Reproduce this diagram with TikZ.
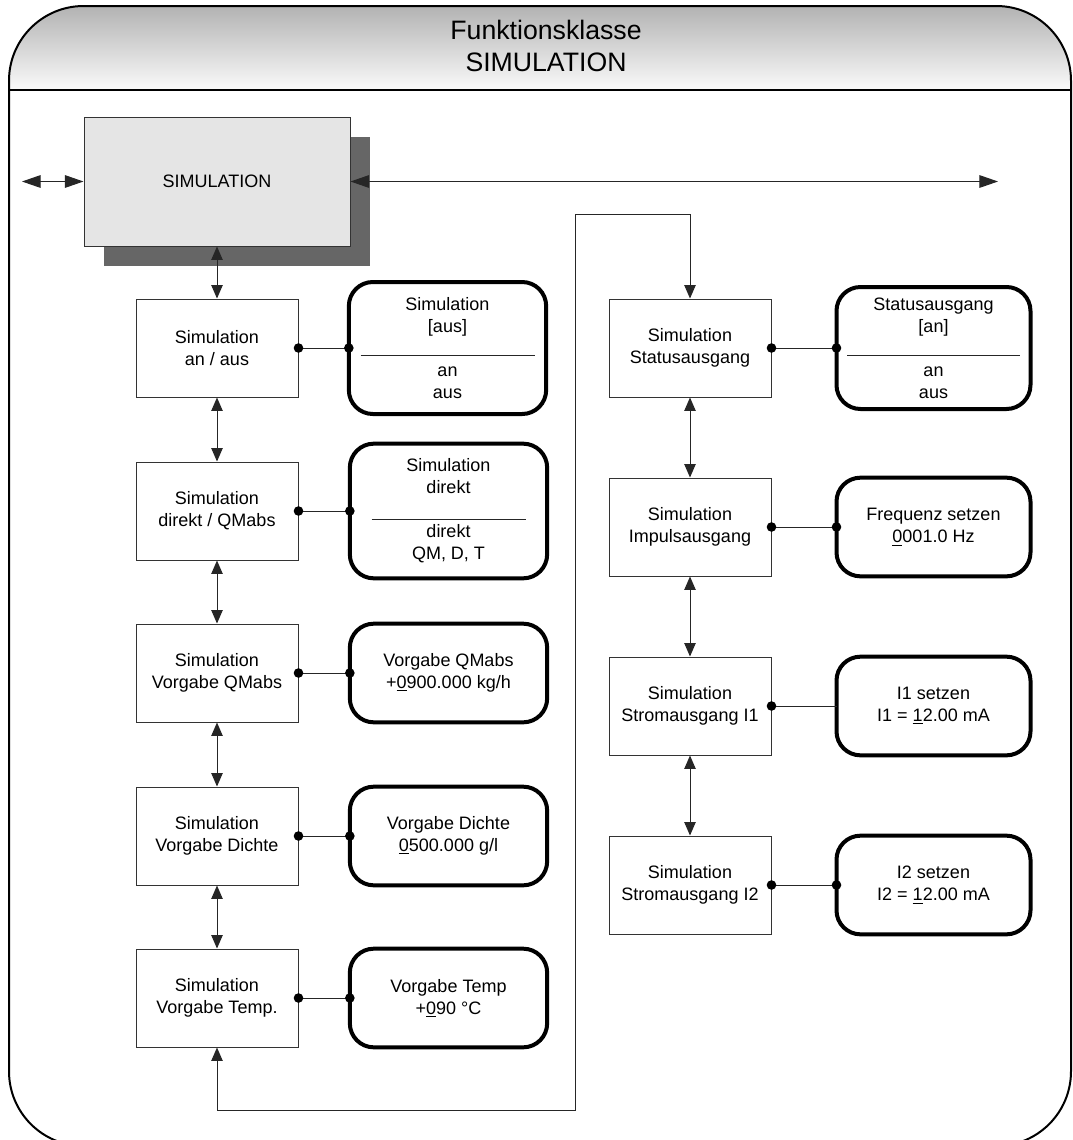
\documentclass[tikz,border=0pt]{standalone}
\usepackage{fontspec}
\setmainfont{Liberation Sans}
\usetikzlibrary{arrows.meta,calc,shadows}

\begin{document}
\begin{tikzpicture}[x=0.75pt,y=-0.75pt,font={\fontsize{13.5}{16.5}\selectfont},
 fbox/.style={draw=black!80,line width=0.75pt,minimum width=121.5pt,minimum height=73.5pt,align=center,inner sep=2pt},
 vbox/.style={draw,line width=3pt,rounded corners=18pt,minimum width=148pt,minimum height=74pt,align=center,inner sep=2pt,outer sep=0pt},
 link/.style={line width=0.75pt,draw=black!85},
 dbl/.style={link,{Triangle[length=10pt,width=8.5pt]}-{Triangle[length=10pt,width=8.5pt]}},
 wide/.style={link,{Triangle[length=14pt,width=9.5pt]}-{Triangle[length=14pt,width=9.5pt]}}]
 \clip (0,0) rectangle (1073,1140);
 % frame and header
 \begin{scope}
  \clip[rounded corners=56pt] (9,600)--(9,6)--(1071,6)--(1071,1146)--(9,1146)--cycle;
  \shade[top color=black!32,bottom color=black!2] (0,0) rectangle (1080,90);
 \end{scope}
 \draw[line width=1.5pt,rounded corners=56pt] (9,600)--(9,6)--(1071,6)--(1071,1146)--(9,1146)--cycle;
 \draw[line width=1.5pt] (9,90)--(1071,90);
 \node[align=center,font={\fontsize{20}{24}\selectfont}] (title) at (546,46) {Funktionsklasse\\SIMULATION};
 % main block
 \node[fbox,fill=black!10,minimum width=199.5pt,minimum height=96.75pt,
  drop shadow={shadow xshift=15pt,shadow yshift=-15pt,fill=black!60,opacity=1}] (sim) at (217,181.5) {SIMULATION};
 \coordinate (lft) at (22,181.5);\coordinate (rgt) at (998,181.5);
 \draw[wide] (lft)--(sim.west);\draw[wide] (sim.east)--(rgt);
 % left column
 \node[fbox] (s1) at (217,348) {Simulation\\an / aus};
 \node[fbox] (s2) at (217,511) {Simulation\\direkt / QMabs};
 \node[fbox] (s3) at (217,673) {Simulation\\Vorgabe QMabs};
 \node[fbox] (s4) at (217,836) {Simulation\\Vorgabe Dichte};
 \node[fbox] (s5) at (217,998) {Simulation\\Vorgabe Temp.};
 \node[vbox,minimum height=99pt] (w1) at (447.5,348) {Simulation\\{}[aus]\\[16.5pt]an\\aus};
 \node[vbox,minimum height=101pt] (w2) at (448.5,511) {Simulation\\direkt\\[16.5pt]direkt\\QM, D, T};
 \node[vbox] (w3) at (448.5,673) {Vorgabe QMabs\\+\underline{0}900.000 kg/h};
 \node[vbox] (w4) at (448.5,836) {Vorgabe Dichte\\\underline{0}500.000 g/l};
 \node[vbox] (w5) at (448.5,998) {Vorgabe Temp\\+\underline{0}90 °C};
 \draw[link] ($(w1.center)+(-87,7)$)--($(w1.center)+(87,7)$);
 \draw[link] ($(w2.center)+(-77,8)$)--($(w2.center)+(77,8)$);
 % right column
 \node[fbox] (r1) at (690,348) {Simulation\\Statusausgang};
 \node[fbox] (r2) at (690,527) {Simulation\\Impulsausgang};
 \node[fbox] (r3) at (690,706) {Simulation\\Stromausgang I1};
 \node[fbox] (r4) at (690,885) {Simulation\\Stromausgang I2};
 \node[vbox,minimum width=145.5pt,minimum height=91.5pt] (u1) at (933.5,348) {Statusausgang\\{}[an]\\[16.5pt]an\\aus};
 \node[vbox,minimum width=145.5pt] (u2) at (933.5,527) {Frequenz setzen\\\underline{0}001.0 Hz};
 \node[vbox,minimum width=145.5pt] (u3) at (933.5,706) {I1 setzen\\I1 = \underline{1}2.00 mA};
 \node[vbox,minimum width=145.5pt] (u4) at (933.5,885) {I2 setzen\\I2 = \underline{1}2.00 mA};
 \draw[link] ($(u1.center)+(-86.5,7)$)--($(u1.center)+(86.5,7)$);
 % connectors
 \foreach \a/\b in {sim/s1,s1/s2,s2/s3,s3/s4,s4/s5,r1/r2,r2/r3,r3/r4}
  \draw[dbl] (\a.south)--(\b.north);
 \draw[dbl] (s5.south)--++(0,63)-|(575,214)-|(r1.north);
 \foreach \a/\b/\k in {s1/w1/1,s2/w2/1,s3/w3/1,s4/w4/1,s5/w5/1,r1/u1/1,r2/u2/1,r3/u3/0,r4/u4/1}{
  \draw[link] (\a.east)--(\b.west);
  \fill (\a.east) circle[radius=3.6pt];
  \ifnum\k=1\fill (\b.west) circle[radius=3.6pt];\fi
 }
\end{tikzpicture}
\end{document}
